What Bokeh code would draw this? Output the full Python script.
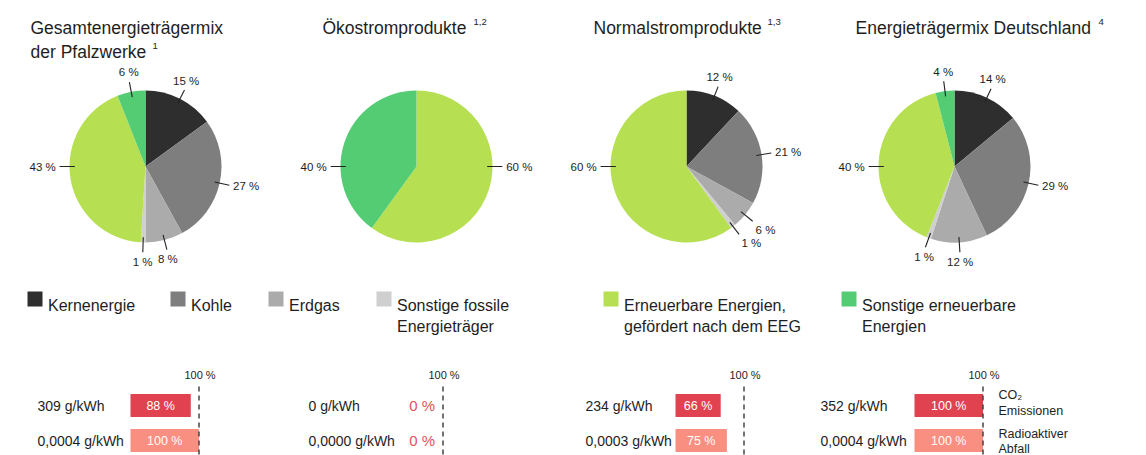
import math
from bokeh.plotting import figure
from bokeh.models import Range1d
from bokeh.core.properties import value
from bokeh.embed import file_html
from bokeh.resources import INLINE

# ---------------- data ----------------
categories = ["Kernenergie", "Kohle", "Erdgas", "Sonstige fossile\nEnergieträger",
              "Erneuerbare Energien,\ngefördert nach dem EEG", "Sonstige erneuerbare\nEnergien"]
colors = ["#2e2e2e", "#7e7e7e", "#ababab", "#cfcfcf", "#b6df52", "#54cc74"]

titles = ["Gesamtenergieträgermix\nder Pfalzwerke", "Ökostromprodukte", "Normalstromprodukte",
          "Energieträgermix Deutschland"]
footnotes = ["1", "1,2", "1,3", "4"]

mix_pfalzwerke = [15, 27, 8, 1, 43, 6]
mix_oekostrom = [0, 0, 0, 0, 60, 40]
mix_normalstrom = [12, 21, 6, 1, 60, 0]
mix_deutschland = [14, 29, 12, 1, 40, 4]
mixes = [mix_pfalzwerke, mix_oekostrom, mix_normalstrom, mix_deutschland]

co2_g_kwh = [309, 0, 234, 352]
co2_pct = [88, 0, 66, 100]
waste_g_kwh = [0.0004, 0.0000, 0.0003, 0.0004]
waste_pct = [100, 0, 75, 100]
metric_labels = ["CO₂\nEmissionen", "Radioaktiver\nAbfall"]
bar_colors = ["#e0424f", "#f88f80"]
zero_color = "#e5505b"

# ---------------- layout ----------------
W, H = 1146, 455
FONT = value("Liberation Sans")
TXT = "#1e1e1e"
PIE_CX = [145, 416, 686, 954]
PIE_CY = 166
PIE_R = 76
TITLE_X = [30, 322, 593, 855]
SUP_X = [152, 473, 767, 1098]
LEG_X = [27, 170, 268, 376, 603, 841]
VAL_X = [37, 308, 585, 820]
BAR_X0 = [130, 374, 675, 914]
BAR_LEN = 68.5
ROW_Y = [405, 440]
SIDE_X = 998


def Y(v):
    return -v


extra = {}
for i, x0 in enumerate(BAR_X0):
    s = BAR_LEN / 100.0
    extra[f"bar{i}"] = Range1d(start=(0 - x0) / s, end=(W - x0) / s)

p = figure(width=W, height=H, output_backend="svg", toolbar_location=None,
           x_range=Range1d(0, W), y_range=Range1d(Y(H), Y(0)),
           x_axis_location=None, y_axis_location=None, min_border=0,
           outline_line_color=None, background_fill_color="white",
           border_fill_color="white")
p.extra_x_ranges = extra
p.xgrid.visible = False
p.ygrid.visible = False


def text(x, y, t, size, color=TXT, align="left", baseline="alphabetic", **kw):
    p.text(x=[x], y=[Y(y)], text=[t], text_font=FONT, text_font_size=size,
           text_color=color, text_align=align, text_baseline=baseline, **kw)


# ---------------- titles ----------------
for i, t in enumerate(titles):
    lines = t.split("\n")
    for k, line in enumerate(lines):
        text(TITLE_X[i], 27.5 + 24 * k, line, "17.5px")
    text(SUP_X[i], 27.5 + 24 * (len(lines) - 1) - 6, footnotes[i], "9.5px")

# ---------------- pies ----------------
for i, vals in enumerate(mixes):
    cx, cy = PIE_CX[i], Y(PIE_CY)
    total = float(sum(vals))
    cum = 0.0
    starts, ends, cols = [], [], []
    lx0, ly0, lx1, ly1 = [], [], [], []
    for v, c in zip(vals, colors):
        if v == 0:
            continue
        a0 = cum / total * 2 * math.pi
        a1 = (cum + v) / total * 2 * math.pi
        starts.append(math.pi / 2 - a1)
        ends.append(math.pi / 2 - a0)
        cols.append(c)
        theta = math.pi / 2 - (a0 + a1) / 2
        if v / total >= 0.4:
            theta = 0.0 if math.cos(theta) >= 0 else math.pi
        co, si = math.cos(theta), math.sin(theta)
        lx0.append(cx + 0.93 * PIE_R * co)
        ly0.append(cy + 0.93 * PIE_R * si)
        lx1.append(cx + 1.13 * PIE_R * co)
        ly1.append(cy + 1.13 * PIE_R * si)
        align = "left" if co > 0.5 else ("right" if co < -0.5 else "center")
        base = "bottom" if si > 0.5 else ("top" if si < -0.5 else "middle")
        p.text(x=[cx + 1.18 * PIE_R * co], y=[cy + 1.18 * PIE_R * si], text=[f"{v} %"],
               text_font=FONT, text_font_size="11.5px", text_color=TXT,
               text_align=align, text_baseline=base)
        cum += v
    p.wedge(x=cx, y=cy, radius=PIE_R, start_angle=starts, end_angle=ends,
            fill_color=cols, line_color=None)
    p.segment(x0=lx0, y0=ly0, x1=lx1, y1=ly1, line_color="#222222", line_width=1.1)

# ---------------- legend ----------------
p.quad(left=LEG_X, right=[x + 15 for x in LEG_X], top=[Y(291)] * 6, bottom=[Y(306)] * 6,
       fill_color=colors, line_color=None)
for x, cat in zip(LEG_X, categories):
    for k, line in enumerate(cat.split("\n")):
        text(x + 20.5, 305 + 21 * k, line, "16px")

# ---------------- bars ----------------
for i in range(4):
    rn = f"bar{i}"
    rows = [(co2_g_kwh[i], co2_pct[i], f"{co2_g_kwh[i]} g/kWh"),
            (waste_g_kwh[i], waste_pct[i], f"{waste_g_kwh[i]:.4f}".replace(".", ",") + " g/kWh")]
    for r, (g, pct, lab) in enumerate(rows):
        yc = Y(ROW_Y[r])
        text(VAL_X[i], ROW_Y[r], lab, "14px", baseline="middle")
        if pct > 0:
            p.hbar(y=[yc], left=[0], right=[pct], height=23, fill_color=bar_colors[r],
                   line_color=None, x_range_name=rn)
            p.text(x=[pct / 2], y=[yc], text=[f"{pct} %"], text_font=FONT,
                   text_font_size="12.5px", text_color="white", text_align="center",
                   text_baseline="middle", x_range_name=rn)
        else:
            p.text(x=[100], y=[yc], text=[f"{pct} %"], text_font=FONT,
                   text_font_size="15px", text_color=zero_color, text_align="right",
                   text_baseline="middle", x_offset=-8, x_range_name=rn)
    p.segment(x0=[100], y0=[Y(386)], x1=[100], y1=[Y(458)], line_color="#444444",
              line_width=1.5, line_dash="5 4", x_range_name=rn)
    p.text(x=[100], y=[Y(374)], text=["100 %"], text_font=FONT, text_font_size="11px",
           text_color=TXT, text_align="center", text_baseline="middle", x_offset=1,
           x_range_name=rn)

side_y = [[394, 410.5], [433, 448]]
for r, lab in enumerate(metric_labels):
    for k, line in enumerate(lab.split("\n")):
        text(SIDE_X, side_y[r][k], line, "12.5px", baseline="middle")

open("out.html", "w").write(file_html(p, INLINE))
